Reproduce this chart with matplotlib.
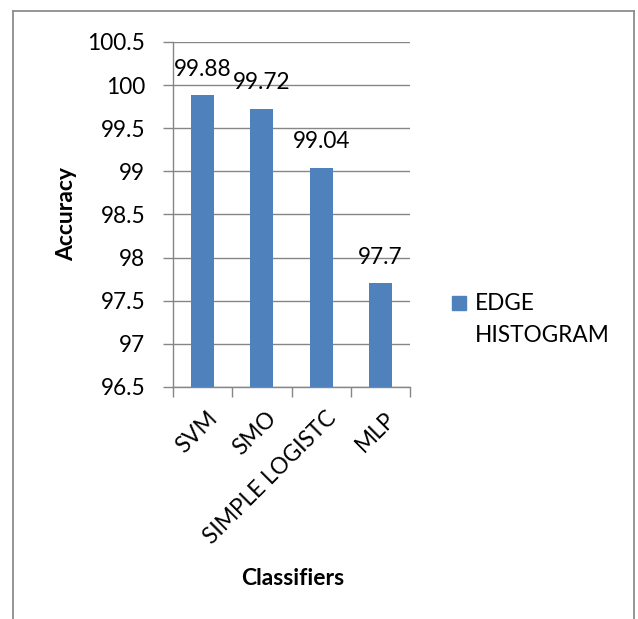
import matplotlib.pyplot as plt
import numpy as np
from matplotlib.patches import Rectangle
from matplotlib.lines import Line2D
from matplotlib.transforms import ScaledTranslation

# ==== Werte ====
classifiers = ["SVM", "SMO", "SIMPLE LOGISTC", "MLP"]
accuracy = [99.88, 99.72, 99.04, 97.7]
series_name = ["EDGE", "HISTOGRAM"]
y_ticks = [96.5, 97, 97.5, 98, 98.5, 99, 99.5, 100, 100.5]

BAR_COLOR = "#4F81BD"
GRID_COLOR = "#868686"
FS = 16.3
plt.rcParams["font.family"] = ["Lato", "DejaVu Sans"]

fig = plt.figure(figsize=(6.38, 6.19), dpi=100)

# Rahmen um das Diagramm (unten offen)
fig.add_artist(Line2D([0.020, 0.020], [0.0, 0.983], color="#8c8c8c", lw=1.3))
fig.add_artist(Line2D([0.020, 0.994], [0.983, 0.983], color="#8c8c8c", lw=1.3))
fig.add_artist(Line2D([0.994, 0.994], [0.0, 0.983], color="#8c8c8c", lw=1.3))

ax = fig.add_axes([0.2712, 0.3748, 0.3715, 0.5574])

x = np.arange(len(classifiers))
ax.bar(x, accuracy, width=0.39, color=BAR_COLOR, zorder=3)

ax.set_ylim(96.5, 100.5)
ax.set_xlim(-0.5, len(classifiers) - 0.5)
ax.set_yticks(y_ticks)
ax.set_yticklabels([f"{t:g}" for t in y_ticks], fontsize=FS)
ax.yaxis.grid(True, color=GRID_COLOR, lw=1.0, zorder=0)

# Kategorien mittig, Teilstriche zwischen den Balken
ax.set_xticks(x)
ax.set_xticklabels(classifiers, rotation=45, ha="right", rotation_mode="anchor", fontsize=FS)
ax.tick_params(axis="x", which="major", length=0, pad=15)
shift = ScaledTranslation(4 / 100, 0, fig.dpi_scale_trans)
for lbl in ax.get_xticklabels():
    lbl.set_transform(lbl.get_transform() + shift)
ax.set_xticks(np.arange(-0.5, len(classifiers)), minor=True)
ax.tick_params(axis="x", which="minor", length=7, color=GRID_COLOR, width=1.0)
ax.tick_params(axis="y", length=7, color=GRID_COLOR, width=1.0, pad=13)

for side in ["top", "right"]:
    ax.spines[side].set_visible(False)
for side in ["left", "bottom"]:
    ax.spines[side].set_color(GRID_COLOR)
    ax.spines[side].set_linewidth(1.0)

# Werte über den Balken
for xi, val in zip(x, accuracy):
    ax.annotate(f"{val:g}", (xi, val), xytext=(0, 19), textcoords="offset points",
                ha="center", va="center", fontsize=FS)

ax.set_ylabel("Accuracy", fontsize=16.5, fontweight="bold")
ax.yaxis.set_label_coords(-0.405, 0.5)
fig.text(0.458, 0.066, "Classifiers", fontsize=16.5, fontweight="bold", ha="center", va="center")

# Legende von Hand: Quadrat neben der ersten Zeile
fig.add_artist(Rectangle((452 / 638, 1 - 310 / 619), 14 / 638, 14 / 619, color=BAR_COLOR,
                         transform=fig.transFigure))
fig.text(475 / 638, 1 - 303 / 619, series_name[0], fontsize=FS, va="center", ha="left")
fig.text(475 / 638, 1 - 335 / 619, series_name[1], fontsize=FS, va="center", ha="left")

fig.savefig("out.png", dpi=100)
